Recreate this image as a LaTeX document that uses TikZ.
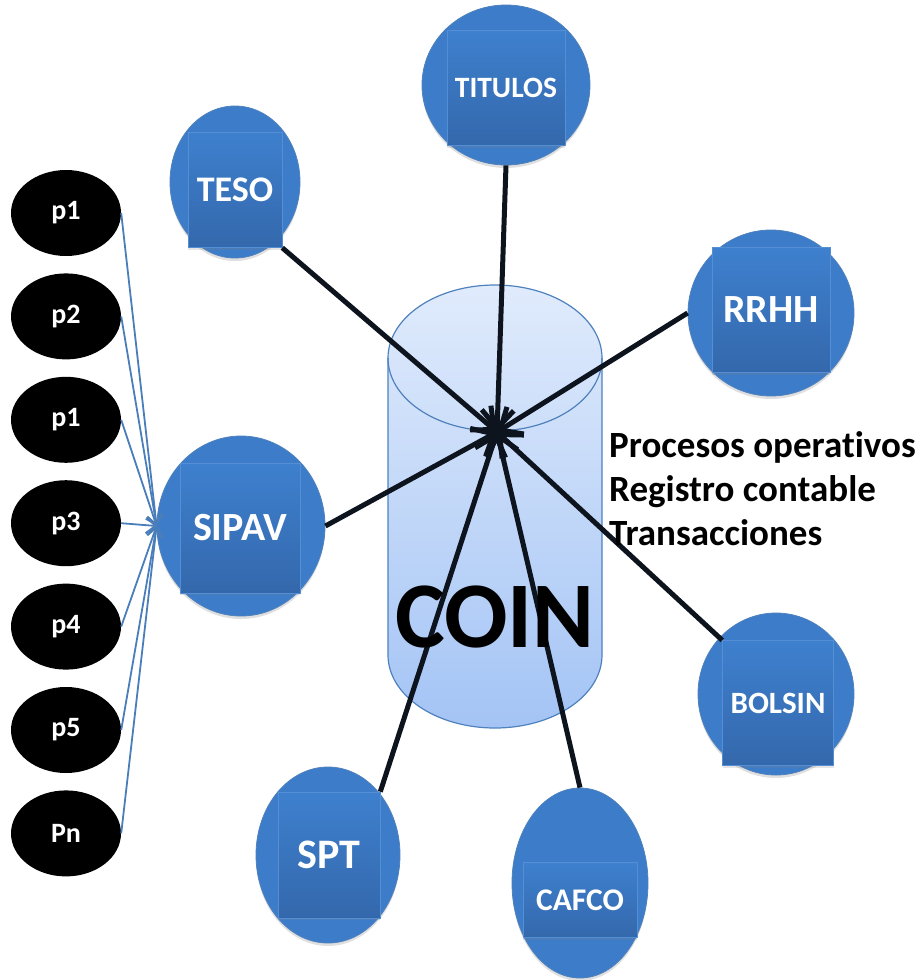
\documentclass[tikz,border=0pt]{standalone}
\usepackage{fontspec}
\setmainfont{Carlito}[Ligatures=NoCommon]
\usetikzlibrary{shapes.geometric,arrows.meta,shadows}
\definecolor{satBlue}{RGB}{61,124,200}
\definecolor{satEdge}{RGB}{79,129,189}
\definecolor{boxTop}{RGB}{62,128,206}
\definecolor{boxBottom}{RGB}{52,104,172}
\definecolor{boxEdge}{RGB}{84,142,212}
\definecolor{coinTop}{RGB}{224,235,252}
\definecolor{coinBottom}{RGB}{164,196,245}
\definecolor{coinEdge}{RGB}{79,129,189}
\definecolor{linkBlack}{RGB}{13,20,30}
\definecolor{procBlue}{RGB}{74,126,187}
\begin{document}
\begin{tikzpicture}[x=1pt,y=-1pt,
    satEllipse/.style={ellipse,fill=satBlue,draw=satEdge,line width=0.8pt,inner sep=0pt,
      drop shadow={shadow xshift=0pt,shadow yshift=-3pt,opacity=0.25}},
    satBox/.style={rectangle,top color=boxTop,bottom color=boxBottom,draw=boxEdge,line width=0.6pt,
      text=white,inner sep=0pt,drop shadow={shadow xshift=0pt,shadow yshift=-2pt,opacity=0.2}},
    procNode/.style={ellipse,fill=black,minimum width=110pt,minimum height=86pt,inner sep=0pt,
      text=white,font=\fontsize{28}{28}\selectfont\bfseries},
    linkLine/.style={draw=linkBlack,line width=5pt,-{Straight Barb[length=18pt,width=32pt]}},
    procLine/.style={draw=procBlue,line width=1.8pt,-{Straight Barb[length=9pt,width=16pt]}}]
  % 画布大小
  \useasboundingbox (0,0) rectangle (921,980);

  % 设置圆柱的位置和半径
  \def\cylLeft{388}
  \def\cylRight{602}
  \def\cylTop{358}
  \def\cylBottom{655}
  \def\cylRx{107}
  \def\cylRy{73}

  % 绘制COIN圆柱
  \shade[top color=coinTop,bottom color=coinBottom] (\cylLeft,\cylTop) -- (\cylLeft,\cylBottom)
    arc[start angle=180,end angle=0,x radius=\cylRx,y radius=\cylRy] -- (\cylRight,\cylTop)
    arc[start angle=0,end angle=-180,x radius=\cylRx,y radius=\cylRy] -- cycle;
  \draw[coinEdge,line width=1.2pt] (\cylLeft,\cylTop) -- (\cylLeft,\cylBottom)
    arc[start angle=180,end angle=0,x radius=\cylRx,y radius=\cylRy] -- (\cylRight,\cylTop);
  \draw[coinEdge,line width=1.2pt] (495,\cylTop) ellipse[x radius=\cylRx,y radius=\cylRy];

  % 绘制子系统
  \node[satEllipse,minimum width=130pt,minimum height=152pt] (teso) at (235,182) {};
  \node[satBox,minimum width=94pt,minimum height=115pt] (teso-box) at (235,190) {\fontsize{36}{36}\selectfont\bfseries TESO};

  \node[satEllipse,minimum width=168pt,minimum height=160pt] (titulos) at (506,85) {};
  \node[satBox,minimum width=118pt,minimum height=115pt] (titulos-box) at (506,88) {\fontsize{29.5}{29.5}\selectfont\bfseries TITULOS};

  \node[satEllipse,minimum width=166pt,minimum height=166pt] (rrhh) at (771,313) {};
  \node[satBox,minimum width=118pt,minimum height=125pt] (rrhh-box) at (771,310) {\fontsize{40}{40}\selectfont\bfseries RRHH};

  \node[satEllipse,minimum width=156pt,minimum height=162pt] (bolsin) at (776,694) {};
  \node[satBox,minimum width=111pt,minimum height=125pt] (bolsin-box) at (778,703) {\fontsize{31}{31}\selectfont\bfseries BOLSIN};

  \node[satEllipse,minimum width=144pt,minimum height=176pt] (spt) at (328,855) {};
  \node[satBox,minimum width=102pt,minimum height=126pt] (spt-box) at (329,855) {\fontsize{42}{42}\selectfont\bfseries SPT};

  \node[satEllipse,minimum width=136pt,minimum height=190pt] (cafco) at (580,883) {};
  \node[satBox,minimum width=114pt,minimum height=75pt] (cafco-box) at (580,900) {\fontsize{31.5}{31.5}\selectfont\bfseries CAFCO};

  \node[satEllipse,minimum width=168pt,minimum height=180pt] (sipav) at (241,526) {};
  \node[satBox,minimum width=120pt,minimum height=130pt] (sipav-box) at (240,528) {\fontsize{40}{40}\selectfont\bfseries SIPAV};

  % 绘制流程节点和连线
  \foreach \pName [count=\i from 0] in {p1,p2,p1,p3,p4,p5,Pn} {
    \node[procNode] (proc\i) at (66,213+103.4*\i) {\pName};
    \draw[procLine] (proc\i.east) -- (sipav.west);
  }

  % 子系统到COIN的连线
  \coordinate (hub) at (497,432);
  \foreach \src in {teso-box.south east,titulos.south,rrhh.west,sipav.east,spt-box.north east,cafco.north,bolsin-box.north west}
    \draw[linkLine] (\src) -- (hub);

  % 文字
  \node[font=\fontsize{94}{94}\selectfont\bfseries] (coin) at (495,617) {COIN};
  \node[anchor=base west,inner sep=0pt,font=\fontsize{37}{37}\selectfont\bfseries] (opText) at (609,457) {Procesos operativos};
  \node[anchor=base west,inner sep=0pt,font=\fontsize{37}{37}\selectfont\bfseries] (regText) at (609,501) {Registro contable};
  \node[anchor=base west,inner sep=0pt,font=\fontsize{37}{37}\selectfont\bfseries] (traText) at (609,545) {Transacciones};
\end{tikzpicture}
\end{document}
